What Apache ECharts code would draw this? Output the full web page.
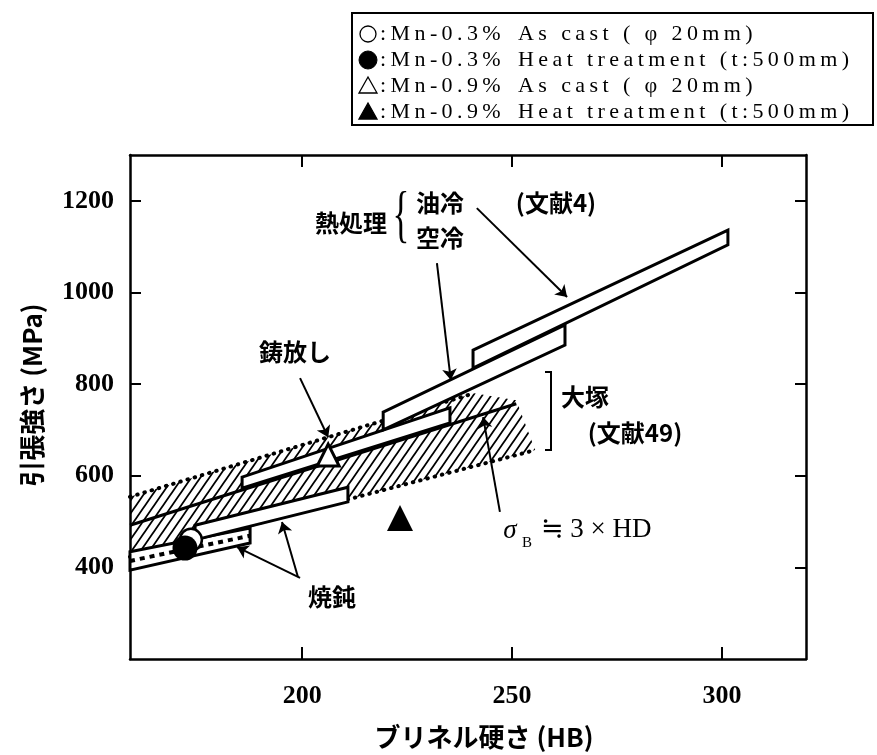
<!DOCTYPE html>
<html>
<head>
<meta charset="utf-8">
<script src="https://cdn.jsdelivr.net/npm/echarts@6/dist/echarts.min.js"></script>
<style>
html,body{margin:0;padding:0;background:#fff}
#chart{width:877px;height:755px}
</style>
</head>
<body>
<div id="chart"></div>
<script>
// Axis ticks (Brinell hardness HB, tensile strength MPa)
const xTicks = [200, 250, 300];
const yTicks = [400, 600, 800, 1000, 1200];

// Measured points [HB, MPa]
const asCastMn03 = [[173.5, 460]];
const heatMn03 = [[172.1, 442]];
const asCastMn09 = [[206.2, 645]];
const heatMn09 = [[223.3, 508]];

// Reference bands [HB, MPa] (outline polygons)
const oilCooledBand = [[240.7, 874], [301.4, 1136], [301.4, 1104], [240.7, 835]];
const airCooledBand = [[219.3, 739], [262.6, 929], [262.6, 885], [219.3, 700]];
const otsukaAsCast = [[185.7, 597], [235.2, 748], [235.2, 715], [185.7, 573]];
const otsukaLower = [[174.5, 492], [210.9, 575], [210.9, 543], [174.5, 460]];
const annealedBand = [[159, 434], [187.6, 486], [187.6, 453], [159, 394]];
const annealedCore = [[159, 414], [187.6, 469]];

// Scatter zone of Otsuka data (hatched) and its dotted limits
const otsukaZone = [[159, 554], [241, 780], [251, 765], [255.5, 656], [159, 423]];
const zoneUpper = [[159, 554], [241, 780]];
const zoneLower = [[159, 423], [255.5, 656]];

// sigma_B ~ 3 x HB
const sigmaLine = [[159, 492], [251, 757]];

// Leader arrows [from, to]
const arrows = [
  [[241.6, 1184], [263.1, 990]],
  [[232.1, 1064], [235.4, 809]],
  [[199.5, 813], [206.2, 684]],
  [[199.5, 377], [184.5, 444]],
  [[199.0, 379], [195.2, 499]],
  [[247.1, 521], [243.1, 728]]
];

function hatch() {
  const w = 9, h = 13;
  const c = document.createElement('canvas');
  c.width = w; c.height = h;
  const g = c.getContext('2d');
  g.strokeStyle = '#000';
  g.lineWidth = 1.8;
  g.beginPath();
  g.moveTo(0, h); g.lineTo(w, 0);
  g.moveTo(-w, h); g.lineTo(w, -h);
  g.moveTo(0, 2 * h); g.lineTo(2 * w, 0);
  g.stroke();
  return c;
}

function shape(points, style, z) {
  return {
    type: 'custom', coordinateSystem: 'cartesian2d', silent: true, z: z,
    data: points,
    renderItem: function (params, api) {
      if (params.dataIndex !== 0) return null;
      return {
        type: 'polygon',
        shape: { points: points.map(function (p) { return api.coord(p); }) },
        style: style
      };
    }
  };
}

function line(points, lineStyle, z) {
  return {
    type: 'line', data: points, symbol: 'none', silent: true, z: z,
    lineStyle: lineStyle, animation: false
  };
}

function marker(points, symbol, size, itemStyle, z) {
  return {
    type: 'scatter', data: points, symbol: symbol, symbolSize: size, z: z, silent: true,
    itemStyle: Object.assign({ opacity: 1 }, itemStyle)
  };
}

const bandStyle = { fill: '#fff', stroke: '#000', lineWidth: 3, lineJoin: 'miter' };
const serif = "'Liberation Serif', 'DejaVu Serif', serif";
const jp = "'Noto Sans CJK JP', sans-serif";
const spaced = s => s.split('').join('\u2009');

function txt(text, x, y, size, family, opts) {
  opts = opts || {};
  return {
    type: 'text', z: 50, silent: true,
    x: x, y: y, rotation: opts.rotation || 0, scaleX: opts.scaleX || 1,
    style: {
      text: text,
      font: (opts.italic ? 'italic ' : '') + (opts.weight || 'normal') + ' ' + size + 'px ' + family,
      fill: '#000', align: opts.align || 'left', verticalAlign: 'middle',
      textAlign: opts.align || 'left', textVerticalAlign: 'middle'
    }
  };
}

const chart = echarts.init(document.getElementById('chart'), null, { renderer: 'canvas' });

const legendRows = [
  { sym: 'circle-open', mn: ':Mn-0.3%', desc: 'As cast ( \u03c6 20mm)' },
  { sym: 'circle', mn: ':Mn-0.3%', desc: 'Heat treatment (t:500mm)' },
  { sym: 'tri-open', mn: ':Mn-0.9%', desc: 'As cast ( \u03c6 20mm)' },
  { sym: 'tri', mn: ':Mn-0.9%', desc: 'Heat treatment (t:500mm)' }
];

const graphics = [
  { type: 'rect', z: 40, shape: { x: 352, y: 13, width: 521, height: 112 },
    style: { fill: '#fff', stroke: '#000', lineWidth: 2 } }
];
legendRows.forEach(function (r, i) {
  const cy = 34 + i * 26, cx = 368;
  let el;
  if (r.sym.indexOf('circle') === 0) {
    el = { type: 'circle', z: 45, shape: { cx: cx, cy: cy, r: r.sym === 'circle' ? 9 : 8 },
      style: { fill: r.sym === 'circle' ? '#000' : '#fff', stroke: '#000', lineWidth: r.sym === 'circle' ? 1 : 1.3 } };
  } else {
    el = { type: 'polygon', z: 45, shape: { points: [[cx, cy - 9], [cx + 9, cy + 7], [cx - 9, cy + 7]] },
      style: { fill: r.sym === 'tri' ? '#000' : '#fff', stroke: '#000', lineWidth: 1.3 } };
  }
  graphics.push(el);
  graphics.push(txt(spaced(r.mn), 380, cy, 22, serif));
  graphics.push(txt(spaced(r.desc), 518, cy, 22, serif));
});

// Axis titles
graphics.push(txt('引張強さ (MPa)', 32, 395, 26, jp, { align: 'center', weight: 'bold', rotation: Math.PI / 2 }));
graphics.push(txt('ブリネル硬さ (HB)', 484, 737, 26, jp, { align: 'center', weight: 'bold' }));

// Annotations
graphics.push(txt('熱処理', 351, 223, 24, jp, { align: 'center', weight: 'bold' }));
graphics.push(txt('{', 401, 218, 64, serif, { align: 'center', scaleX: 0.55 }));
graphics.push(txt('油冷', 440, 203, 24, jp, { align: 'center', weight: 'bold' }));
graphics.push(txt('空冷', 440, 238, 24, jp, { align: 'center', weight: 'bold' }));
graphics.push(txt('(文献4)', 556, 203, 24, jp, { align: 'center', weight: 'bold' }));
graphics.push(txt('鋳放し', 295, 352, 24, jp, { align: 'center', weight: 'bold' }));
graphics.push(txt('大塚', 585, 397, 24, jp, { align: 'center', weight: 'bold' }));
graphics.push(txt('(文献49)', 635, 433, 24, jp, { align: 'center', weight: 'bold' }));
graphics.push(txt('焼鈍', 332, 597, 24, jp, { align: 'center', weight: 'bold' }));
graphics.push({ type: 'polyline', z: 50, shape: { points: [[545, 372], [551, 372], [551, 450], [545, 450]] },
  style: { stroke: '#000', lineWidth: 2, fill: null } });
graphics.push(txt('\u03c3', 510, 531, 27, serif, { align: 'center', italic: true }));
graphics.push(txt('B', 527, 543, 15, serif, { align: 'center' }));
graphics.push(txt('\u2252 3 \u00d7 HD', 541, 530, 27, serif));

const zoneFill = { image: hatch(), repeat: 'repeat' };
const plain = v => String(v);

const option = {
  backgroundColor: '#fff',
  animation: false,
  grid: { left: 130, right: 71, top: 155, bottom: 96, containLabel: false },
  xAxis: [
    {
      type: 'value', min: 159, max: 320, position: 'bottom',
      axisLine: { lineStyle: { color: '#000', width: 2.5 } },
      axisTick: { inside: true, length: 12, customValues: xTicks, lineStyle: { color: '#000', width: 2 } },
      axisLabel: { customValues: xTicks, formatter: plain, margin: 24, fontFamily: serif, fontSize: 26, fontWeight: 'bold', color: '#000' },
      splitLine: { show: false }
    },
    {
      type: 'value', min: 159, max: 320, position: 'top',
      axisLine: { lineStyle: { color: '#000', width: 2.5 } },
      axisTick: { inside: true, length: 12, customValues: xTicks, lineStyle: { color: '#000', width: 2 } },
      axisLabel: { show: false }, splitLine: { show: false }
    }
  ],
  yAxis: [
    {
      type: 'value', min: 200, max: 1300, position: 'left',
      axisLine: { lineStyle: { color: '#000', width: 2.5 } },
      axisTick: { inside: true, length: 11, customValues: yTicks, lineStyle: { color: '#000', width: 2 } },
      axisLabel: { customValues: yTicks, formatter: plain, margin: 16, fontFamily: serif, fontSize: 26, fontWeight: 'bold', color: '#000' },
      splitLine: { show: false }
    },
    {
      type: 'value', min: 200, max: 1300, position: 'right',
      axisLine: { lineStyle: { color: '#000', width: 2.5 } },
      axisTick: { inside: true, length: 11, customValues: yTicks, lineStyle: { color: '#000', width: 2 } },
      axisLabel: { show: false }, splitLine: { show: false }
    }
  ],
  series: [
    shape(otsukaZone, { fill: zoneFill, stroke: null }, 1),
    line(zoneUpper, { color: '#000', width: 4, type: [0.5, 7], cap: 'round' }, 2),
    line(zoneLower, { color: '#000', width: 4, type: [0.5, 7], cap: 'round' }, 2),
    shape(annealedBand, bandStyle, 3),
    line(annealedCore, { color: '#000', width: 4, type: [5, 5] }, 4),
    shape(otsukaLower, bandStyle, 3),
    line(sigmaLine, { color: '#000', width: 3 }, 4),
    shape(otsukaAsCast, bandStyle, 5),
    shape(airCooledBand, bandStyle, 5),
    shape(oilCooledBand, bandStyle, 5),
    {
      type: 'lines', coordinateSystem: 'cartesian2d', z: 6, silent: true,
      symbol: ['none', 'arrow'], symbolSize: 11,
      lineStyle: { color: '#000', width: 2, opacity: 1 },
      data: arrows.map(function (a) { return { coords: a }; })
    },
    marker(asCastMn03, 'circle', 22, { color: '#fff', borderColor: '#000', borderWidth: 2.5 }, 7),
    marker(heatMn03, 'circle', 25, { color: '#000' }, 8),
    marker(asCastMn09, 'triangle', 22, { color: '#fff', borderColor: '#000', borderWidth: 3 }, 8),
    marker(heatMn09, 'triangle', 26, { color: '#000' }, 8)
  ],
  graphic: graphics
};

chart.setOption(option);
</script>
</body>
</html>
